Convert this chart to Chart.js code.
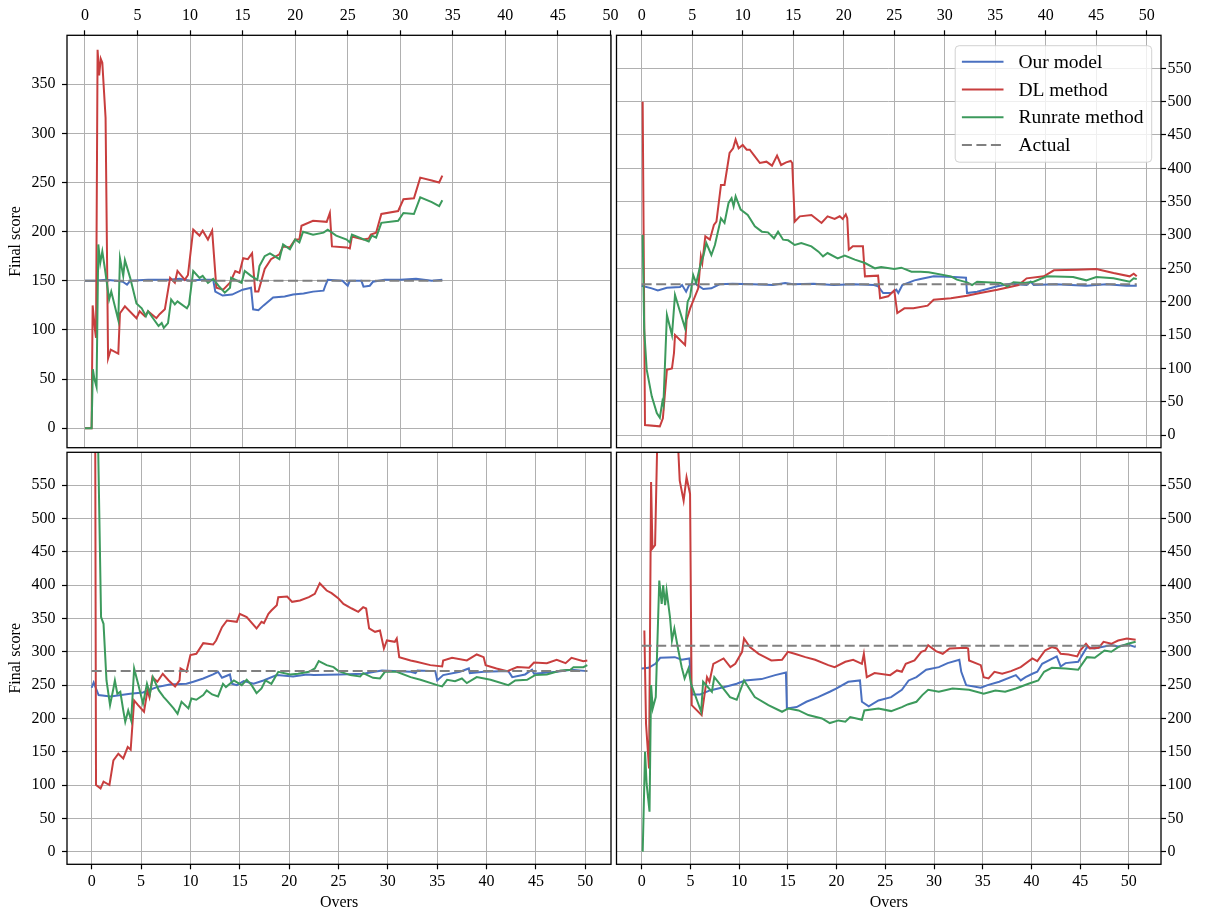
<!DOCTYPE html>
<html>
<head>
<meta charset="utf-8">
<script src="https://cdn.jsdelivr.net/npm/chart.js@4.4.1/dist/chart.umd.min.js"></script>
<style>
  html, body { margin: 0; padding: 0; background: #fff; }
  #page { position: relative; width: 1211px; height: 915px; }
  #page canvas { position: absolute; left: 0; top: 0; }
</style>
</head>
<body>
<div id="page">
  <canvas id="tl" width="1211" height="915"></canvas>
  <canvas id="tr" width="1211" height="915"></canvas>
  <canvas id="bl" width="1211" height="915"></canvas>
  <canvas id="br" width="1211" height="915"></canvas>
</div>
<script>
// series names / colours
const seriesNames = ['Our model', 'DL method', 'Runrate method', 'Actual'];
const seriesColors = ['#4a70c0', '#c83e3e', '#3c9a5c', '#808080'];

// actual final score of each innings and the last over it spans
const actualScores = [150, 226, 271, 309];
const actualEnd = [34, 49, 50.2, 50.7];

// [over, predicted final score]
// top-left innings
const tlOur = [[0,150],[1,150],[2,151],[3,150],[3.6,149],[4,146],[4.3,150],[6,151],[8,151],[9,152],[10,150],[11,151],[12.2,151],[12.4,139],[13.1,135],[14,136],[15,141],[15.8,143],[16,121],[16.5,120],[17,125],[17.9,133],[19,134],[19.8,136],[20.8,137],[21.7,139],[22.7,140],[22.9,146],[23.1,151],[24.5,150],[25,145],[25.2,150],[26.3,150],[26.5,144],[27.1,145],[27.4,149],[28.5,151],[30,151],[31.5,152],[33,150],[34,151]];
const tlDL = [[0,0],[0.63,0],[0.73,125],[0.95,100],[1.05,92],[1.2,385],[1.35,359],[1.5,376],[1.65,372],[1.96,316],[2.2,71],[2.45,80],[3.17,76],[3.33,117],[3.8,124],[4.9,112],[5.2,119],[5.7,114],[6.0,119],[6.8,112],[7.1,116],[7.6,121],[8.1,153],[8.55,148],[8.8,160],[9.5,151],[9.8,156],[10.3,202],[10.9,196],[11.2,201],[11.7,192],[12.1,201],[12.5,143],[13.15,141],[13.8,148],[14.3,160],[14.7,158],[15.05,173],[15.5,172],[15.9,178],[16.2,139],[16.5,139],[17.1,162],[17.7,172],[18.5,177],[18.85,185],[19.5,184],[20.0,192],[20.4,192],[20.6,206],[21.7,211],[23.0,210],[23.3,219],[23.5,185],[24.9,184],[25.2,183],[25.4,195],[26.5,192],[27.0,193],[27.2,197],[27.7,199],[28.2,218],[29.8,221],[30.3,233],[31.3,234],[31.9,255],[33.0,252],[33.7,250],[34.0,257]];
const tlRR = [[0,0],[0.63,0],[0.75,60],[0.9,50],[1.1,42],[1.27,187],[1.45,168],[1.65,180],[1.9,162],[2.3,131],[2.5,139],[3.17,110],[3.33,173],[3.64,155],[3.8,171],[4.3,153],[4.9,127],[5.4,122],[5.8,114],[6.0,119],[7.0,104],[7.3,107],[7.5,102],[7.9,107],[8.2,131],[8.55,126],[8.8,129],[9.7,122],[9.9,126],[10.3,160],[10.9,153],[11.2,155],[11.7,148],[12.2,152],[12.7,145],[13.3,138],[13.8,143],[13.9,153],[14.9,148],[15.2,160],[15.8,155],[16.4,151],[16.6,165],[17.1,175],[17.6,178],[18.5,172],[18.85,187],[19.5,182],[20.0,192],[20.4,189],[20.75,200],[21.7,197],[22.7,199],[23.1,202],[23.9,196],[24.9,192],[25.2,189],[25.4,197],[27.0,190],[27.3,196],[27.7,194],[28.2,209],[29.8,211],[30.3,219],[31.3,218],[31.9,235],[33.0,230],[33.7,226],[34.0,232]];

// top-right innings
const trOur = [[0,224],[1.0,220],[1.6,217],[2.5,221],[3.8,222],[4.0,225],[4.4,215],[4.7,225],[5.3,227],[6.1,219],[6.9,220],[7.7,226],[9,227],[11,226],[13,225],[14.2,228],[15,226],[17,227],[19,225],[21,226],[23.0,225],[23.4,223],[23.9,213],[24.7,213],[25.2,218],[25.4,213],[25.8,225],[27.0,232],[27.6,234],[28.9,238],[30.9,237],[32.1,236],[32.2,213],[33.2,215],[35.2,223],[36.5,227],[38.1,225],[38.5,230],[38.8,225],[41,226],[44,224],[46,226],[48,224],[49.0,224]];
const trDL = [[0.1,500],[0.33,15],[1.8,13],[2.1,25],[2.5,98],[3.0,100],[3.2,123],[3.3,150],[4.3,135],[4.45,173],[4.8,190],[5.6,220],[5.86,268],[6.0,258],[6.3,298],[6.75,293],[7.15,315],[7.4,320],[7.85,375],[8.2,375],[8.7,423],[9.05,430],[9.3,443],[9.6,430],[10.0,435],[10.4,428],[10.7,428],[11.2,418],[11.7,408],[12.35,410],[12.9,404],[13.4,419],[13.8,405],[14.3,409],[14.75,411],[14.9,408],[15.15,320],[15.65,328],[16.8,330],[17.8,318],[18.4,328],[19.1,324],[19.6,328],[19.9,324],[20.2,331],[20.35,325],[20.5,278],[20.9,283],[21.9,283],[22.1,238],[23.4,239],[23.6,205],[24.4,208],[25.0,217],[25.3,183],[26.0,190],[26.9,190],[28.3,194],[28.9,203],[30.6,205],[32.2,209],[33.5,213],[35.2,218],[37.3,225],[38.1,235],[39.8,238],[40.8,247],[43.1,248],[45.0,249],[46.7,243],[48.3,238],[48.7,242],[49.0,238]];
const trRR = [[0.1,300],[0.25,158],[0.5,98],[1.0,58],[1.5,33],[1.8,26],[2.05,50],[2.15,45],[2.5,180],[3.0,150],[3.3,210],[3.8,185],[4.3,160],[4.55,200],[4.8,208],[5.1,240],[5.4,228],[5.86,258],[6.1,268],[6.4,288],[6.9,270],[7.25,285],[7.85,325],[8.2,318],[8.6,348],[8.9,355],[9.1,343],[9.3,358],[9.8,338],[10.5,330],[11.2,313],[11.9,305],[12.5,304],[13.1,295],[13.5,305],[14.0,293],[14.5,292],[15.15,285],[15.8,288],[16.8,283],[17.5,275],[17.95,268],[18.4,273],[19.4,265],[20.1,269],[21.1,263],[22.1,258],[23.1,250],[23.7,252],[25.0,249],[25.7,251],[26.7,245],[27.6,245],[28.4,244],[30.6,238],[31.2,233],[32.2,229],[32.7,225],[33.2,230],[35.5,228],[36.2,223],[36.8,229],[37.8,228],[38.8,230],[40.1,238],[42.7,237],[44.0,232],[45.0,237],[46.7,235],[48.3,230],[48.7,235],[49.0,234]];

// bottom-left innings
const blOur = [[0,246],[0.2,254],[0.7,235],[1.9,233],[3.9,237],[5.2,239],[5.9,243],[6.6,247],[7.9,251],[9.6,252],[10.3,255],[11.3,260],[12.3,266],[12.8,270],[13.2,261],[14.0,266],[14.2,252],[14.7,250],[15.4,256],[16.4,252],[17.4,257],[18.75,265],[20.4,263],[21.8,266],[22.5,265],[25.2,266],[27.5,267],[29.4,272],[32.3,270],[32.8,268],[33.0,272],[34.8,271],[35.0,257],[35.6,265],[37.3,270],[38.2,275],[38.3,268],[39.7,270],[42.2,271],[42.6,262],[43.9,266],[44.6,273],[44.8,267],[47.1,270],[48.6,273],[50.2,271]];
const blDL = [[0.33,800],[0.44,100],[0.9,95],[1.2,105],[1.8,100],[2.2,137],[2.7,147],[3.2,140],[3.65,157],[3.95,153],[4.3,227],[4.7,220],[5.3,210],[5.65,242],[5.85,232],[6.15,262],[6.65,255],[7.2,267],[7.8,257],[8.45,248],[8.9,257],[9.0,275],[9.6,270],[10.0,295],[10.6,297],[11.3,313],[12.3,311],[12.6,317],[13.2,337],[13.7,347],[14.7,345],[15.0,357],[15.7,352],[16.7,335],[17.2,345],[17.45,343],[17.9,357],[18.2,362],[18.75,370],[18.9,382],[19.8,383],[20.3,375],[21.1,377],[22.0,382],[22.6,387],[23.1,403],[23.8,392],[24.3,388],[25.0,380],[25.5,372],[26.35,365],[27.0,360],[27.5,367],[27.8,365],[28.1,335],[28.7,330],[29.2,332],[29.6,305],[29.9,317],[30.7,315],[30.9,320],[31.15,292],[32.3,287],[32.9,285],[34.3,280],[35.5,278],[35.6,287],[36.5,291],[38.0,287],[39.0,296],[39.7,292],[39.9,280],[41.0,275],[42.1,271],[43.1,277],[44.3,276],[44.8,284],[46.1,283],[47.1,288],[48.0,283],[48.6,291],[49.8,286],[50.2,287]];
const blRR = [[0.55,700],[0.95,352],[1.2,342],[1.5,257],[1.86,220],[2.2,245],[2.35,257],[2.6,237],[2.9,240],[3.2,212],[3.4,195],[3.7,212],[4.0,197],[4.3,275],[4.7,252],[5.2,222],[5.6,252],[5.9,237],[6.2,262],[6.8,242],[7.3,232],[7.6,227],[8.3,215],[8.7,207],[9.1,225],[9.8,215],[10.1,230],[10.6,228],[11.3,235],[11.65,242],[12.2,236],[12.8,233],[13.3,252],[13.6,247],[14.4,257],[15.2,250],[15.7,258],[16.2,250],[16.7,238],[17.2,245],[17.6,257],[18.2,252],[18.9,270],[20.1,266],[20.9,267],[22.0,270],[22.6,275],[23.0,286],[23.8,280],[24.5,277],[25.0,271],[26.2,265],[27.2,263],[27.5,268],[28.5,261],[29.2,260],[29.7,270],[30.9,270],[32.3,262],[33.3,258],[35.0,250],[35.5,248],[36.0,258],[36.8,256],[37.5,260],[38.0,253],[39.0,262],[40.4,258],[42.2,250],[42.9,257],[44.1,258],[44.9,265],[46.1,266],[47.5,272],[48.5,273],[48.8,277],[49.8,277],[50.2,280]];

// bottom-right innings
const brOur = [[0,275],[0.7,276],[1.4,282],[1.9,291],[3.4,292],[4.1,288],[4.9,290],[5.15,236],[6.0,236],[7.0,242],[8.7,248],[9.75,252],[10.6,257],[12.3,259],[13.7,265],[14.8,269],[14.9,215],[15.9,217],[16.9,225],[18.1,232],[19.3,240],[20.0,245],[21.2,255],[22.4,257],[22.6,225],[23.3,218],[24.3,227],[25.6,232],[26.7,243],[27.4,257],[28.2,262],[29.2,273],[30.5,277],[31.4,283],[32.6,288],[32.8,270],[33.3,250],[34.8,246],[35.5,250],[36.7,255],[38.4,265],[38.9,257],[39.4,262],[40.1,267],[40.6,270],[41.1,282],[42.6,293],[43.0,278],[43.5,283],[44.8,285],[45.7,307],[46.5,305],[48.2,310],[48.9,308],[49.9,311],[50.7,307]];
const brDL = [[0.27,332],[0.44,192],[0.75,125],[0.96,555],[1.1,455],[1.37,460],[1.6,620],[2.5,700],[3.6,650],[3.9,557],[4.3,527],[4.6,562],[4.96,537],[5.13,220],[6.15,205],[6.7,262],[6.95,255],[7.35,282],[8.4,290],[9.1,277],[9.6,282],[10.3,300],[10.5,320],[11.1,307],[12.0,297],[12.65,292],[13.3,287],[14.4,288],[15.0,300],[15.7,297],[16.8,292],[17.8,288],[19.15,280],[19.8,277],[20.9,285],[21.7,288],[22.6,282],[22.8,297],[23.1,262],[23.9,268],[25.5,265],[26.2,272],[26.7,270],[27.1,282],[28.0,287],[28.7,300],[29.1,302],[29.4,310],[30.2,301],[30.9,297],[31.6,305],[33.3,306],[33.5,305],[33.6,287],[34.8,280],[35.1,262],[35.6,260],[36.2,270],[37.0,267],[37.9,271],[38.9,277],[40.1,290],[40.6,286],[41.4,302],[42.1,307],[42.6,305],[43.0,297],[43.8,296],[44.7,293],[45.0,302],[45.6,312],[46.0,305],[46.9,306],[47.4,315],[48.2,312],[48.9,317],[49.8,320],[50.7,318]];
const brRR = [[0.1,0],[0.34,150],[0.5,102],[0.8,60],[0.96,250],[1.13,215],[1.44,232],[1.8,407],[2.05,372],[2.2,400],[2.4,370],[2.55,392],[2.9,352],[3.1,317],[3.35,335],[3.76,302],[4.1,277],[4.4,260],[4.8,275],[5.06,252],[6.1,210],[6.3,255],[7.2,240],[7.45,262],[8.0,252],[9.06,232],[9.75,228],[10.5,257],[11.6,232],[13.0,220],[14.4,210],[15.05,215],[16.1,212],[17.1,205],[18.5,200],[19.3,193],[20.2,197],[20.9,195],[21.4,202],[22.6,198],[22.85,212],[24.3,215],[25.6,211],[26.7,217],[27.3,221],[28.2,225],[28.8,235],[29.4,243],[30.5,240],[31.9,245],[33.6,243],[35.1,237],[36.3,242],[37.3,240],[38.4,245],[39.7,252],[40.7,257],[41.3,270],[42.1,276],[43.5,275],[44.8,273],[45.7,292],[46.5,291],[47.5,302],[48.2,300],[48.9,307],[49.9,312],[50.7,315]];

const serif = "'Liberation Serif', 'Times New Roman', serif";
const PAGE_W = 1211, PAGE_H = 915;

// plot boxes on the page: [left, top, right, bottom]
const panels = [
  { id: 'tl', area: [67, 35.3, 611, 447.7], x: [-1.71, 50.05], y: [-19.8, 399.8], xPos: 'top', yPos: 'left', series: [tlOur, tlDL, tlRR], yTitle: 'Final score' },
  { id: 'tr', area: [616.5, 35.3, 1161, 447.7], x: [-2.49, 51.4], y: [-19, 599.5], xPos: 'top', yPos: 'right', series: [trOur, trDL, trRR], legend: true },
  { id: 'bl', area: [67, 452.3, 611, 864.3], x: [-2.5, 52.6], y: [-19, 599.5], xPos: 'bottom', yPos: 'left', series: [blOur, blDL, blRR], yTitle: 'Final score', xTitle: 'Overs' },
  { id: 'br', area: [616.5, 452.3, 1161, 864.3], x: [-2.59, 53.3], y: [-19, 599.5], xPos: 'bottom', yPos: 'right', series: [brOur, brDL, brRR], xTitle: 'Overs' }
];

function pts(arr) {
  return arr.map(p => ({ x: p[0], y: p[1] }));
}

// black box round each plot
const framePlugin = {
  id: 'frame',
  afterDraw(chart) {
    const a = chart.chartArea, ctx = chart.ctx;
    ctx.save();
    ctx.strokeStyle = '#000';
    ctx.lineWidth = 1.3;
    ctx.strokeRect(a.left, a.top, a.right - a.left, a.bottom - a.top);
    ctx.restore();
  }
};

// matplotlib-like legend box in the upper right corner
const legendPlugin = {
  id: 'boxLegend',
  afterDraw(chart) {
    const a = chart.chartArea, ctx = chart.ctx;
    const w = 196.5, h = 116.5, r = 4;
    const x0 = a.right - 9.3 - w, y0 = a.top + 10.4;
    ctx.save();
    ctx.beginPath();
    ctx.moveTo(x0 + r, y0);
    ctx.lineTo(x0 + w - r, y0);
    ctx.arcTo(x0 + w, y0, x0 + w, y0 + r, r);
    ctx.lineTo(x0 + w, y0 + h - r);
    ctx.arcTo(x0 + w, y0 + h, x0 + w - r, y0 + h, r);
    ctx.lineTo(x0 + r, y0 + h);
    ctx.arcTo(x0, y0 + h, x0, y0 + h - r, r);
    ctx.lineTo(x0, y0 + r);
    ctx.arcTo(x0, y0, x0 + r, y0, r);
    ctx.closePath();
    ctx.fillStyle = 'rgba(255,255,255,0.8)';
    ctx.fill();
    ctx.strokeStyle = 'rgba(204,204,204,0.9)';
    ctx.lineWidth = 1;
    ctx.stroke();
    ctx.font = '19.5px ' + serif;
    ctx.textBaseline = 'middle';
    ctx.fillStyle = '#000';
    chart.data.datasets.forEach((ds, i) => {
      const y = y0 + 16 + i * 27.75;
      ctx.beginPath();
      ctx.setLineDash(ds.borderDash || []);
      ctx.strokeStyle = ds.borderColor;
      ctx.lineWidth = 2;
      ctx.moveTo(x0 + 6.7, y);
      ctx.lineTo(x0 + 48.3, y);
      ctx.stroke();
      ctx.setLineDash([]);
      ctx.fillText(ds.label, x0 + 63.3, y + 1);
    });
    ctx.restore();
  }
};

panels.forEach((p, k) => {
  const [left, top, right, bottom] = p.area;
  const datasets = p.series.map((s, i) => ({
    label: seriesNames[i],
    data: pts(s),
    borderColor: seriesColors[i],
    borderWidth: 2,
    order: 3 - i
  }));
  datasets.push({
    label: seriesNames[3],
    data: [{ x: 0, y: actualScores[k] }, { x: actualEnd[k], y: actualScores[k] }],
    borderColor: seriesColors[3],
    borderWidth: 2,
    borderDash: [10, 4.5],
    order: 0
  });

  const yWidth = p.yPos === 'left' ? left : PAGE_W - right;
  const xHeight = p.xPos === 'top' ? top : PAGE_H - bottom;

  new Chart(document.getElementById(p.id), {
    type: 'line',
    data: { datasets },
    options: {
      responsive: false,
      animation: false,
      devicePixelRatio: 1,
      events: [],
      elements: { point: { radius: 0 }, line: { tension: 0, fill: false } },
      layout: {
        padding: {
          left: p.yPos === 'left' ? 0 : left,
          right: p.yPos === 'right' ? 0 : PAGE_W - right,
          top: p.xPos === 'top' ? 0 : top,
          bottom: p.xPos === 'bottom' ? 0 : PAGE_H - bottom
        }
      },
      plugins: { legend: { display: false }, tooltip: { enabled: false } },
      scales: {
        x: {
          type: 'linear',
          position: p.xPos,
          min: p.x[0],
          max: p.x[1],
          afterFit(s) { s.height = xHeight; },
          border: { display: false },
          grid: { color: '#b0b0b0', lineWidth: 1, tickLength: 5, tickColor: '#000', tickWidth: 1.2 },
          ticks: {
            stepSize: 5, includeBounds: false, autoSkip: false, maxRotation: 0,
            color: '#000', font: { family: serif, size: 16 },
            padding: p.xPos === 'top' ? 5 : 3
          },
          title: {
            display: !!p.xTitle, text: p.xTitle || '', color: '#000',
            font: { family: serif, size: 16 }, padding: { top: 0, bottom: 2.4 }
          }
        },
        y: {
          type: 'linear',
          position: p.yPos,
          min: p.y[0],
          max: p.y[1],
          afterFit(s) { s.width = yWidth; },
          border: { display: false },
          grid: { color: '#b0b0b0', lineWidth: 1, tickLength: 5, tickColor: '#000', tickWidth: 1.2 },
          ticks: {
            stepSize: 50, includeBounds: false, autoSkip: false,
            color: '#000', font: { family: serif, size: 16 },
            padding: p.yPos === 'left' ? 6.5 : 1.5
          },
          title: {
            display: !!p.yTitle, text: p.yTitle || '', color: '#000',
            font: { family: serif, size: 16 }, padding: { top: 6.4, bottom: 0 }
          }
        }
      }
    },
    plugins: p.legend ? [framePlugin, legendPlugin] : [framePlugin]
  });
});
</script>
</body>
</html>
